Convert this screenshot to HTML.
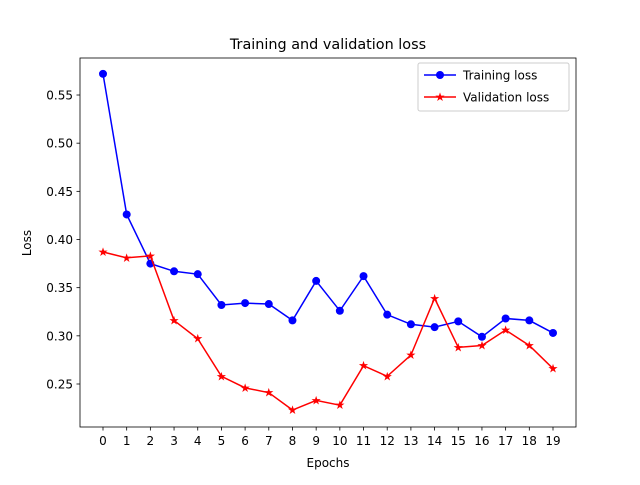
<!DOCTYPE html>
<html><head><meta charset="utf-8"><style>
body{margin:0;background:#fff}
svg{font-family:"DejaVu Sans","Liberation Sans",sans-serif}
</style></head><body>
<svg id="chart" width="640" height="480">
<rect width="640" height="480" fill="#fff"/>
<text x="328" y="49" font-size="14.4" text-anchor="middle">Training and validation loss</text>
<g id="axes"></g>
<g id="series"></g>
<rect x="80" y="58" width="496" height="369" fill="none" stroke="#000" stroke-width="0.8"/>
<text x="328" y="467" font-size="12" text-anchor="middle">Epochs</text>
<text x="31" y="243" font-size="12" text-anchor="middle" transform="rotate(-90 31 243)">Loss</text>
<g>
<rect x="418" y="63" width="151" height="48" rx="2" fill="#fff" fill-opacity="0.8" stroke="#ccc"/>
<g>
<line x1="424" y1="75" x2="456" y2="75" stroke="#0000ff" stroke-width="1.5"/>
<circle cx="440" cy="75" r="4" fill="#0000ff"/>
<text x="463" y="79.5" font-size="12">Training loss</text></g>
<g>
<line x1="424" y1="97" x2="456" y2="97" stroke="#ff0000" stroke-width="1.5"/>
<text x="440" y="101" font-size="12" fill="#ff0000" text-anchor="middle">★</text>
<text x="463" y="101.5" font-size="12">Validation loss</text></g>
</g>
</svg>
<script>
const epochs=[0,1,2,3,4,5,6,7,8,9,10,11,12,13,14,15,16,17,18,19];
const trainingLoss=[0.572,0.426,0.375,0.367,0.364,0.332,0.334,0.333,0.316,0.357,0.326,0.362,0.322,0.312,0.309,0.315,0.299,0.318,0.316,0.303];
const validationLoss=[0.387,0.381,0.383,0.316,0.297,0.258,0.246,0.241,0.223,0.233,0.228,0.269,0.258,0.280,0.339,0.288,0.290,0.306,0.290,0.266];
const yTicks=[0.25,0.30,0.35,0.40,0.45,0.50,0.55];
const yTickLabels=["0.25","0.30","0.35","0.40","0.45","0.50","0.55"];
const NS="http://www.w3.org/2000/svg";
const xs=i=>103+(i-epochs[0])*(450/(epochs[epochs.length-1]-epochs[0]));
const ys=v=>384-(v-0.25)*963.3;
const axes=document.getElementById('axes'),ser=document.getElementById('series');
function mk(t,a,p){const e=document.createElementNS(NS,t);for(const k in a)e.setAttribute(k,a[k]);p.appendChild(e);return e;}
epochs.forEach(e=>{const x=xs(e);
const t=mk('line',{x1:x,x2:x,y1:427,y2:430.5,stroke:'#000','stroke-width':0.8},axes);


const l=mk('text',{x:x,y:445,'font-size':12,'text-anchor':'middle'},axes);l.textContent=e;

});
yTicks.forEach((v,i)=>{const y=ys(v);
const t=mk('line',{x1:76.5,x2:80,y1:y,y2:y,stroke:'#000','stroke-width':0.8},axes);


const l=mk('text',{x:73,y:y+4.5,'font-size':12,'text-anchor':'end'},axes);l.textContent=yTickLabels[i];

});
function series(vals,color,name,star){
const pl=mk('polyline',{points:vals.map((v,i)=>xs(epochs[i])+','+ys(v)).join(' '),fill:'none',stroke:color,'stroke-width':1.5},ser);


vals.forEach((v,i)=>{let m;
if(star){m=mk('text',{x:xs(epochs[i]),y:ys(v)+4,'font-size':12,'text-anchor':'middle',fill:color},ser);m.textContent='★';}
else m=mk('circle',{cx:xs(epochs[i]),cy:ys(v),r:4,fill:color},ser);

});}
series(trainingLoss,'#0000ff','training-loss',false);
series(validationLoss,'#ff0000','validation-loss',true);
</script>
</body></html>
